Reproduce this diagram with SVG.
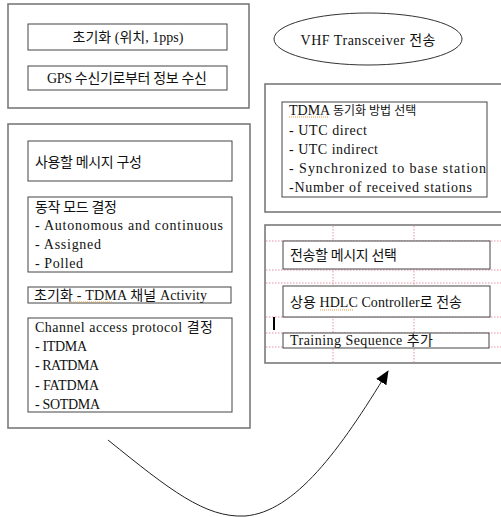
<svg xmlns="http://www.w3.org/2000/svg" width="501" height="517" viewBox="0 0 501 517">
<defs>
<style>
.outer{fill:#fff;stroke:#7a7a7a;stroke-width:1.6}
.inner{fill:#fff;stroke:#444;stroke-width:1}
.t{font-family:"Liberation Serif","Noto Sans CJK KR",serif;font-size:14px;fill:#111}
.k{font-size:12px}
.grid{stroke:#e07a8f;stroke-width:0.8;stroke-dasharray:1.5 1.5;fill:none}
.ul{stroke:#e0a040;stroke-width:1;stroke-dasharray:1 1}
</style>
<marker id="ah" viewBox="0 0 14 12" refX="13" refY="6" markerWidth="14" markerHeight="12" markerUnits="userSpaceOnUse" orient="auto">
<path d="M0,0 L14,6 L0,12 z" fill="#000"/>
</marker>
</defs>
<rect width="501" height="517" fill="#fff"/>

<g id="init-group">
<rect class="outer" x="8" y="4" width="241" height="104"/>
<g id="init-position">
<rect class="inner" x="28" y="24" width="199" height="26"/>
<text class="t" x="128" y="42" text-anchor="middle" textLength="111">초기화 (위치, 1pps)</text>
</g>
<g id="gps-receive">
<rect class="inner" x="28" y="66" width="199" height="24"/>
<text class="t" x="127" y="83" text-anchor="middle" textLength="160">GPS 수신기로부터 정보 수신</text>
</g>
</g>

<g id="vhf-transceiver">
<ellipse cx="368" cy="39" rx="94" ry="26" fill="#fff" stroke="#333" stroke-width="1"/>
<text class="t" x="368" y="45" text-anchor="middle" textLength="135">VHF Transceiver 전송</text>
</g>

<g id="message-group">
<rect class="outer" x="8" y="124" width="242" height="304"/>
<g id="compose-message">
<rect class="inner" x="28" y="141" width="204" height="40"/>
<text class="t" x="35" y="167" textLength="107">사용할 메시지 구성</text>
</g>
<g id="operation-mode">
<rect class="inner" x="28" y="197" width="204" height="75"/>
<text class="t" x="35" y="212" textLength="82">동작 모드 결정</text>
<text class="t" x="35" y="230" textLength="188">- Autonomous and continuous</text>
<text class="t" x="35" y="249" textLength="66">- Assigned</text>
<text class="t" x="35" y="268" textLength="48">- Polled</text>
</g>
<g id="init-tdma">
<rect class="inner" x="28" y="287" width="203" height="16"/>
<text class="t" x="34" y="300" textLength="173">초기화 - TDMA 채널 Activity</text>
<line class="ul" x1="71" y1="302" x2="113" y2="302"/>
</g>
<g id="channel-access">
<rect class="inner" x="28" y="318" width="204" height="94"/>
<text class="t" x="35" y="332" textLength="178">Channel access protocol 결정</text>
<text class="t" x="35" y="351" textLength="52">- ITDMA</text>
<text class="t" x="35" y="370" textLength="64">- RATDMA</text>
<text class="t" x="35" y="390" textLength="64">- FATDMA</text>
<text class="t" x="35" y="409" textLength="65">- SOTDMA</text>
</g>
</g>

<g id="tdma-sync-group">
<rect class="outer" x="265" y="84" width="240" height="128"/>
<g id="tdma-sync">
<rect class="inner" x="282" y="102" width="205" height="95"/>
<text class="t" x="289" y="115">TDMA <tspan class="k">동기화 방법 선택</tspan></text>
<line class="ul" x1="289" y1="117" x2="329" y2="117"/>
<text class="t" x="289" y="135" textLength="78">- UTC direct</text>
<text class="t" x="289" y="154" textLength="89">- UTC indirect</text>
<text class="t" x="289" y="173" textLength="197">- Synchronized to base station</text>
<text class="t" x="289" y="192" textLength="183">-Number of received stations</text>
</g>
</g>

<g id="transmit-group">
<rect class="outer" x="265" y="225" width="240" height="138"/>
<g class="grid">
<line x1="266" y1="241" x2="501" y2="241"/>
<line x1="266" y1="270" x2="501" y2="270"/>
<line x1="266" y1="283" x2="501" y2="283"/>
<line x1="266" y1="317" x2="501" y2="317"/>
<line x1="266" y1="333" x2="501" y2="333"/>
<line x1="266" y1="347" x2="501" y2="347"/>
<line x1="333" y1="226" x2="333" y2="362"/>
<line x1="414" y1="226" x2="414" y2="362"/>
</g>
<g id="select-message">
<rect class="inner" x="283" y="241" width="207" height="28"/>
<text class="t" x="290" y="260" textLength="107">전송할 메시지 선택</text>
</g>
<g id="hdlc-controller">
<rect class="inner" x="283" y="286" width="207" height="31"/>
<text class="t" x="290" y="307" textLength="172">상용 HDLC Controller로 전송</text>
<line class="ul" x1="320" y1="310" x2="354" y2="310"/>
</g>
<rect x="273" y="317" width="2" height="13" fill="#000"/>
<g id="training-sequence">
<rect class="inner" x="283" y="333" width="206" height="15"/>
<text class="t" x="290" y="345" textLength="143">Training Sequence 추가</text>
</g>
</g>

<g id="connectors">
<path d="M108,440 C170,490 205,518 245,516 C295,512 340,450 388,371" fill="none" stroke="#222" stroke-width="1" marker-end="url(#ah)"/>
</g>
</svg>
